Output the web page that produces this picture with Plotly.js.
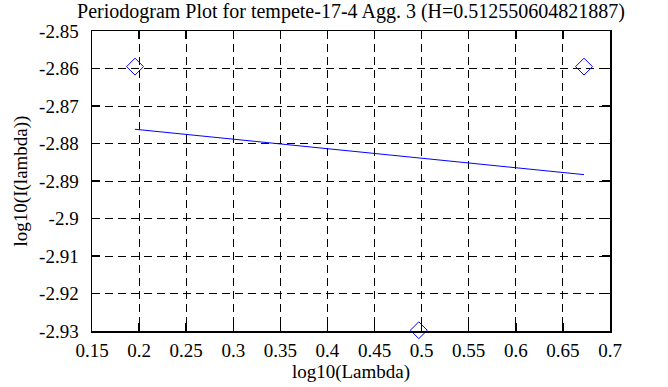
<!DOCTYPE html>
<html><head><meta charset="utf-8">
<script src="https://cdn.plot.ly/plotly-3.0.1.min.js"></script>
<style>body{margin:0;padding:0;background:#fff}#chart{width:668px;height:387px}
#chart .xtick text, #chart .ytick text{font-family:"Liberation Serif", serif !important;}</style>
</head><body><div id="chart"></div>
<script>
const pointsX = [0.1957, 0.4970, 0.6724];
const pointsY = [-2.8595, -2.9298, -2.8595];
const fitX = [0.1957, 0.6724];
const fitY = [-2.8762, -2.8883];
const xTicks = [0.15,0.2,0.25,0.3,0.35,0.4,0.45,0.5,0.55,0.6,0.65,0.7];
const xTickLabels = ['0.15','0.2','0.25','0.3','0.35','0.4','0.45','0.5','0.55','0.6','0.65','0.7'];
const yTicks = [-2.93,-2.92,-2.91,-2.9,-2.89,-2.88,-2.87,-2.86,-2.85];
const yTickLabels = ['-2.93','-2.92','-2.91','-2.9','-2.89','-2.88','-2.87','-2.86','-2.85'];

const FAM = '"Liberation Serif", "Times New Roman", serif';
function f(s){ return {family:FAM, size:s, color:'#000'}; }
const data = [
  {x:pointsX, y:pointsY, mode:'markers', type:'scatter',
   marker:{symbol:'diamond-open', size:13, color:'#0000ff', line:{width:1, color:'#0000ff'}}, cliponaxis:false},
  {x:fitX, y:fitY, mode:'lines', type:'scatter', line:{color:'#0000ff', width:1}}
];
function axis(extra){
  return Object.assign({showline:true, linecolor:'#000', linewidth:1.5, mirror:'ticks', ticks:'inside', ticklen:8, tickcolor:'#000', tickwidth:1.5,
    showgrid:true, gridcolor:'#000', gridwidth:1, griddash:'8px,5px', zeroline:false,
    tickfont:{family:'Liberation Serif', size:19, color:'#000'}}, extra);
}
const layout = {
  width:668, height:387, showlegend:false,
  paper_bgcolor:'#fff', plot_bgcolor:'#fff',
  margin:{l:92, r:58, t:31, b:56},
  font:f(19),
  title:{text:'Periodogram Plot for tempete-17-4 Agg. 3 (H=0.512550604821887)', font:f(20), x:0.5, xref:'paper', xanchor:'center', y:0.971, yanchor:'middle'},
  xaxis:axis({range:[0.15,0.7], tickvals:xTicks, ticktext:xTickLabels, ticklabelstandoff:2,
    title:{text:'log10(Lambda)', font:f(19), standoff:2}}),
  yaxis:axis({range:[-2.93,-2.85], tickvals:yTicks, ticktext:yTickLabels, ticklabelstandoff:8,
    title:{text:'log10(I(lambda))', font:f(19), standoff:6}})
};
Plotly.newPlot('chart', data, layout, {displayModeBar:false, staticPlot:true});
</script></body></html>
